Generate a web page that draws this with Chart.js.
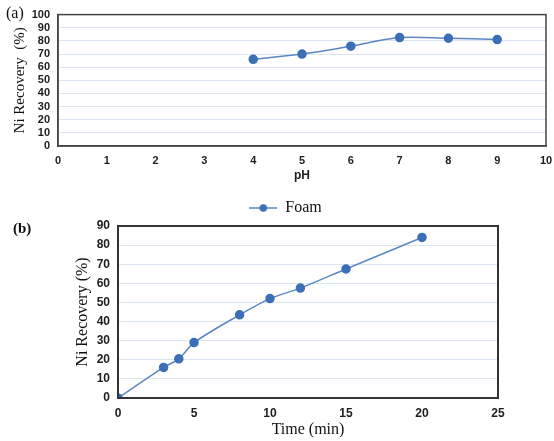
<!DOCTYPE html>
<html>
<head>
<meta charset="utf-8">
<script src="https://cdn.jsdelivr.net/npm/chart.js@4"></script>
<style>
  html, body { margin: 0; padding: 0; background: #fff; }
  body { width: 554px; height: 441px; position: relative; overflow: hidden; }
  .wrap { position: absolute; left: 0; width: 554px; }
  #wa { top: 0; height: 195px; }
  #wb { top: 195px; height: 246px; }
  .tag { position: absolute; font-family: "Liberation Serif", serif; color: #111; }
  #ta { left: 6px; top: 4px; font-size: 16px; }
  #tb { left: 13px; top: 220px; font-size: 15px; font-weight: bold; }
</style>
</head>
<body>
<div class="wrap" id="wa"><canvas id="chartA"></canvas></div>
<div class="wrap" id="wb"><canvas id="chartB"></canvas></div>
<div class="tag" id="ta">(a)</div>
<div class="tag" id="tb">(b)</div>
<script>
// (a) recovery vs pH
const phValues = [4, 5, 6, 7, 8, 9];
const phRecovery = [66, 70, 76, 82.5, 82, 81];

// (b) recovery vs time
const timeValues = [0, 3, 4, 5, 8, 10, 12, 15, 20];
const timeRecovery = [0, 16, 20.5, 29, 43.5, 52, 57.5, 67.5, 84];

const seriesName = 'Foam';

const lineColor = '#5b87c5';
const dotColor = '#3b6fb6';
const gridColor = '#dce6f1';
const tickColor = '#1e1e1e';

// box round the plot area
const frame = {
  id: 'frame',
  afterDatasetsDraw(chart, args, opts) {
    const a = chart.chartArea, c = chart.ctx;
    c.save();
    c.strokeStyle = opts.color;
    c.lineWidth = opts.width;
    c.strokeRect(a.left, a.top, a.right - a.left, a.bottom - a.top);
    c.restore();
  }
};

// legend symbol: line with a dot
const sym = document.createElement('canvas');
sym.width = 28; sym.height = 10;
(function () {
  const g = sym.getContext('2d');
  g.strokeStyle = lineColor; g.lineWidth = 1.5;
  g.beginPath(); g.moveTo(0, 5); g.lineTo(28, 5); g.stroke();
  g.fillStyle = dotColor;
  g.beginPath(); g.arc(14, 5, 3.8, 0, Math.PI * 2); g.fill();
})();

function pts(xs, ys) {
  return xs.map((x, i) => ({ x: x, y: ys[i] }));
}

function dataset(xs, ys) {
  return {
    label: seriesName,
    data: pts(xs, ys),
    borderColor: lineColor,
    borderWidth: 1.5,
    backgroundColor: dotColor,
    pointBackgroundColor: dotColor,
    pointBorderColor: dotColor,
    pointRadius: 4,
    tension: 0.3
  };
}

// chart (a)
new Chart(document.getElementById('chartA'), {
  type: 'line',
  data: { datasets: [dataset(phValues, phRecovery)] },
  plugins: [frame],
  options: {
    responsive: true,
    maintainAspectRatio: false,
    animation: false,
    layout: { padding: { left: 11, right: 0, top: 11, bottom: 10 } },
    plugins: {
      legend: { display: false },
      tooltip: { enabled: false },
      frame: { color: '#444', width: 1.5 }
    },
    scales: {
      x: {
        type: 'linear', min: 0, max: 10,
        ticks: { stepSize: 1, autoSkip: false, padding: 8, color: tickColor, font: { family: 'Liberation Sans', size: 11, weight: 'bold' } },
        grid: { display: false, drawTicks: false },
        border: { color: '#444', width: 1.5 },
        title: { display: true, text: 'pH', color: tickColor, padding: 2, font: { family: 'Liberation Sans', size: 12, weight: 'bold' } },
        afterFit: s => { s.height = 39; s.paddingRight = 8; }
      },
      y: {
        min: 0, max: 100,
        ticks: { stepSize: 10, autoSkip: false, padding: 8, color: tickColor, font: { family: 'Liberation Sans', size: 11, weight: 'bold' } },
        grid: { color: gridColor, drawTicks: false },
        border: { color: '#444', width: 1.5 },
        title: { display: true, text: 'Ni Recovery  (%)', color: '#111', padding: 0, font: { family: 'Liberation Serif', size: 15 } },
        afterFit: s => { s.width = 47; }
      }
    }
  }
});

// chart (b)
new Chart(document.getElementById('chartB'), {
  type: 'line',
  data: { datasets: [dataset(timeValues, timeRecovery)] },
  plugins: [frame],
  options: {
    responsive: true,
    maintainAspectRatio: false,
    animation: false,
    layout: { padding: { left: 73, right: 56, top: 0, bottom: 0 } },
    plugins: {
      legend: {
        display: true,
        position: 'top',
        labels: {
          usePointStyle: true,
          pointStyle: sym,
          pointStyleWidth: 28,
          padding: 5,
          color: '#111',
          font: { family: 'Liberation Serif', size: 16 }
        }
      },
      tooltip: { enabled: false },
      frame: { color: '#333', width: 2 }
    },
    scales: {
      x: {
        type: 'linear', min: 0, max: 25,
        ticks: { stepSize: 5, autoSkip: false, padding: 8, color: tickColor, font: { family: 'Liberation Sans', size: 12, weight: 'bold' } },
        grid: { display: false, drawTicks: false },
        border: { color: '#333', width: 2 },
        title: { display: true, text: 'Time (min)', color: '#111', padding: 2, font: { family: 'Liberation Serif', size: 16 } },
        afterFit: s => { s.height = 43; }
      },
      y: {
        min: 0, max: 90,
        ticks: { stepSize: 10, autoSkip: false, padding: 8, color: tickColor, font: { family: 'Liberation Sans', size: 12, weight: 'bold' } },
        grid: { color: gridColor, drawTicks: false },
        border: { color: '#333', width: 2 },
        title: { display: true, text: 'Ni Recovery (%)', color: '#111', padding: 0, font: { family: 'Liberation Serif', size: 16 } },
        afterFit: s => { s.width = 45; }
      }
    }
  }
});
</script>
</body>
</html>
